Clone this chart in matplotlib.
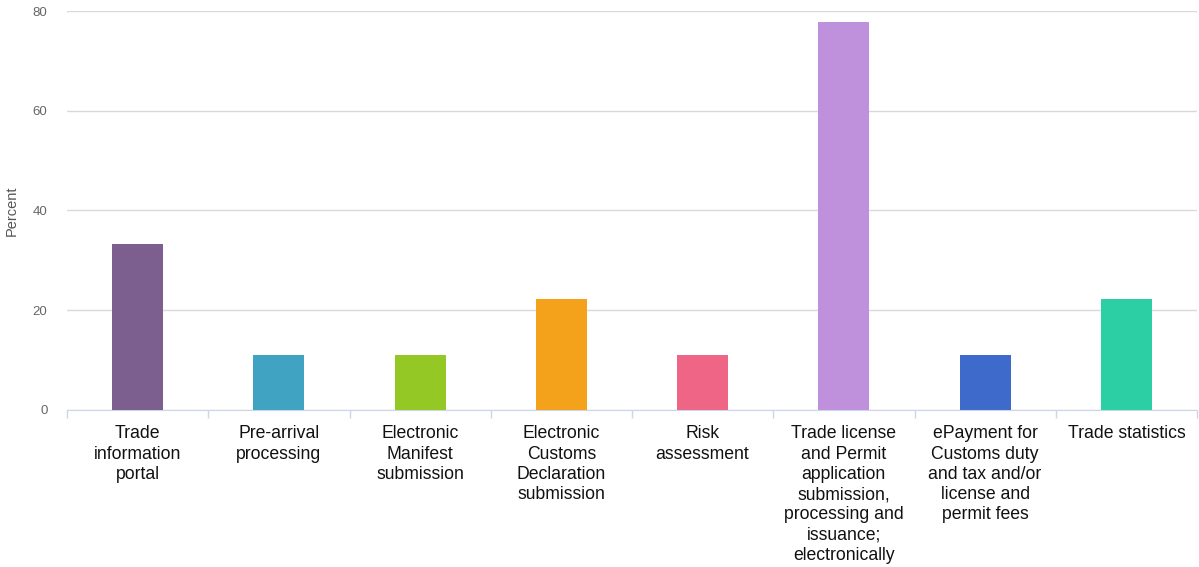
import matplotlib.pyplot as plt

# categories and values (percent)
categories = ["Trade\ninformation\nportal", "Pre-arrival\nprocessing", "Electronic\nManifest\nsubmission",
              "Electronic\nCustoms\nDeclaration\nsubmission", "Risk\nassessment",
              "Trade license\nand Permit\napplication\nsubmission,\nprocessing and\nissuance;\nelectronically",
              "ePayment for\nCustoms duty\nand tax and/or\nlicense and\npermit fees", "Trade statistics"]
values = [33.3, 11.1, 11.1, 22.2, 11.1, 77.8, 11.1, 22.2]
colors = ["#7c5f8e", "#41a3c2", "#94c824", "#f4a21b", "#ef6586", "#bf90db", "#3e6bcb", "#2ccfa4"]
yticks = [0, 20, 40, 60, 80]

plt.rcParams['font.family'] = ['Liberation Sans', 'DejaVu Sans']
fig = plt.figure(figsize=(11.99, 5.67), dpi=100)
ax = fig.add_axes([67/1199, 157/567, 1130/1199, 399/567])

x = range(len(values))
ax.bar(x, values, width=0.36, color=colors, zorder=3)

ax.set_xlim(-0.5, len(values) - 0.5)
ax.set_ylim(0, 80)
ax.set_yticks(yticks)
ax.tick_params(axis='y', length=0, labelsize=9.5, labelcolor="#666666", pad=14)
ax.grid(axis='y', color="#d9d9d9", linewidth=1, zorder=0)

# category labels centered, ticks at boundaries
ax.set_xticks(list(x))
ax.set_xticklabels(categories, fontsize=12.7, color="#111111", linespacing=1.25, va='top')
ax.tick_params(axis='x', length=0, pad=11)
ax.set_xticks([i - 0.5 for i in range(len(values) + 1)], minor=True)
ax.tick_params(axis='x', which='minor', length=6, color="#ccd6eb", width=1)

for s in ["top", "right", "left"]:
    ax.spines[s].set_visible(False)
ax.spines["bottom"].set_color("#ccd6eb")

ax.set_ylabel("Percent", fontsize=10.5, color="#555555", labelpad=10)

plt.savefig("out.png", dpi=100)
